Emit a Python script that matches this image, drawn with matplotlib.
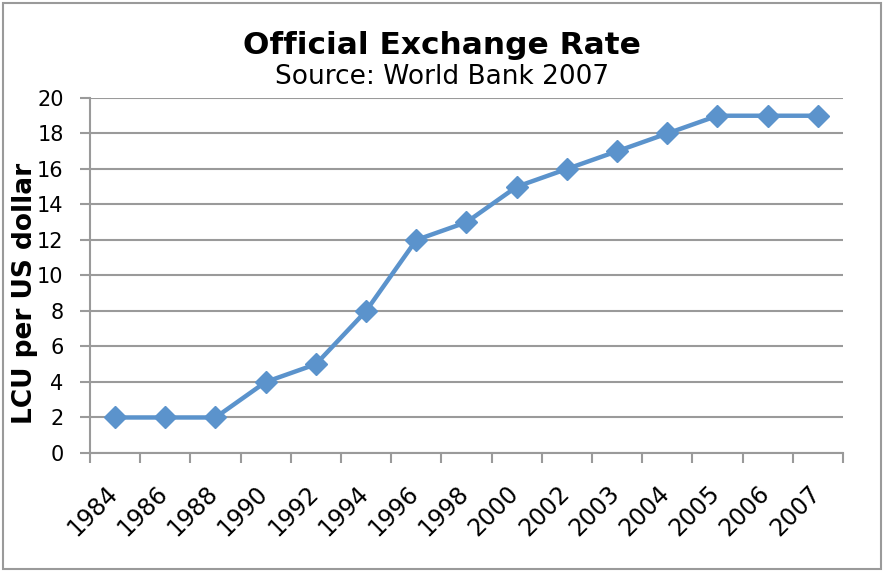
import numpy as np
import matplotlib.pyplot as plt
from matplotlib.patches import Rectangle
from matplotlib.transforms import ScaledTranslation

years = ['1984', '1986', '1988', '1990', '1992', '1994', '1996', '1998',
         '2000', '2002', '2003', '2004', '2005', '2006', '2007']
rate = [2, 2, 2, 4, 5, 8, 12, 13, 15, 16, 17, 18, 19, 19, 19]
yticks = list(range(0, 21, 2))

plt.rcParams['font.family'] = ['DejaVu Sans']
grey = '#9a9a9a'
blue = '#5b93cc'

fig = plt.figure(figsize=(8.84, 5.71), dpi=100)
ax = fig.add_axes([0.1018, 0.2067, 0.8518, 0.6217])

x = np.arange(len(years))
ax.plot(x, rate, color=blue, lw=3.2, marker='D', ms=11.5, mec=blue, mfc=blue,
        zorder=3)

ax.set_xlim(-0.5, len(years) - 0.5)
ax.set_ylim(0, 20)
ax.set_yticks(yticks)
ax.tick_params(axis='y', labelsize=15, length=7, width=1.5, color=grey,
               pad=12)
ax.grid(axis='y', color=grey, lw=1.5)
ax.set_axisbelow(True)

# ticks between categories, labels at the centres
ax.set_xticks(np.arange(len(years) + 1) - 0.5)
ax.set_xticklabels([])
ax.set_xticks(x, minor=True)
ax.set_xticklabels(years, minor=True, rotation=45, ha='right',
                   rotation_mode='anchor', fontsize=17)
ax.tick_params(axis='x', which='major', length=7, width=1.5, color=grey)
ax.tick_params(axis='x', which='minor', length=0, pad=20)
shift = ScaledTranslation(-0.10, 0, fig.dpi_scale_trans)
for lab in ax.get_xticklabels(minor=True):
    lab.set_transform(lab.get_transform() + shift)

for s in ['top', 'right']:
    ax.spines[s].set_visible(False)
for s in ['left', 'bottom']:
    ax.spines[s].set_color(grey)
    ax.spines[s].set_linewidth(1.5)

ax.set_ylabel('LCU per US dollar', fontsize=19, fontweight='bold')
ax.yaxis.set_label_coords(-0.069, 0.45)

fig.text(0.5, 0.921, 'Official Exchange Rate', ha='center', va='center',
         fontsize=22.5, fontweight='bold')
fig.text(0.5, 0.866, 'Source: World Bank 2007', ha='center', va='center',
         fontsize=19)

fig.patches.append(Rectangle((0.003, 0.004), 0.994, 0.99, transform=fig.transFigure,
                             fill=False, edgecolor=grey, lw=1.5))

fig.savefig('out.png', dpi=100)
